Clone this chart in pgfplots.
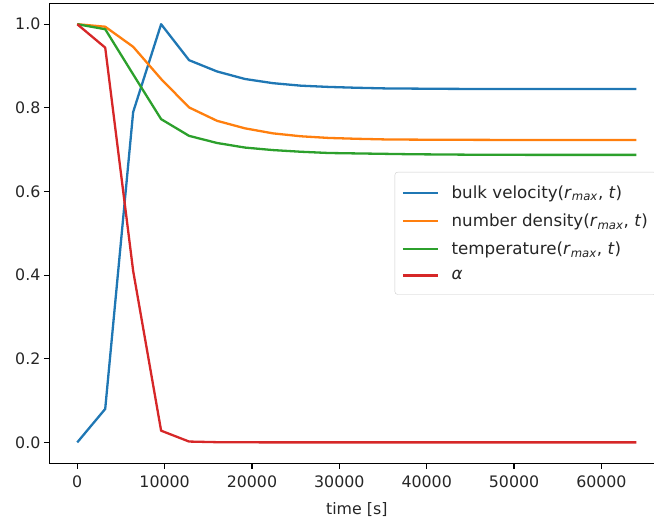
\documentclass[border=0pt]{standalone}
\usepackage{pgfplots}
\pgfplotsset{compat=1.18}
\usepackage{pgfplotstable}
\usepackage{fontspec}
\setmainfont{DejaVu Sans}
\definecolor{C0}{HTML}{1F77B4}
\definecolor{C1}{HTML}{FF7F0E}
\definecolor{C2}{HTML}{2CA02C}
\definecolor{C3}{HTML}{D62728}
\pgfplotstableread{
t      v       n       T       a
0      0.000   1.000   1.000   1.000
3200   0.080   0.994   0.988   0.944
6400   0.790   0.946   0.880   0.410
9600   1.000   0.869   0.773   0.028
12800  0.914   0.801   0.733   0.002
16000  0.887   0.769   0.716   0.0005
19200  0.869   0.751   0.705   0.0002
22400  0.859   0.739   0.699   0.0
25600  0.853   0.732   0.695   0.0
28800  0.850   0.728   0.692   0.0
32000  0.848   0.726   0.691   0.0
35200  0.8465  0.7245  0.690   0.0
38400  0.846   0.724   0.689   0.0
41600  0.8455  0.7237  0.6885  0.0
44800  0.8452  0.7235  0.688   0.0
48000  0.845   0.7233  0.6878  0.0
51200  0.845   0.7232  0.6876  0.0
54400  0.845   0.723   0.6875  0.0
57600  0.845   0.723   0.6875  0.0
60800  0.845   0.723   0.6875  0.0
64000  0.845   0.723   0.6875  0.0
}\datatable
\begin{document}
\begin{tikzpicture}
\begin{axis}[
  scale only axis,
  width=615pt, height=460pt,
  xmin=-3200, xmax=67200,
  ymin=-0.05, ymax=1.05,
  xtick={0,10000,20000,30000,40000,50000,60000},
  ytick={0,0.2,0.4,0.6,0.8,1.0},
  scaled ticks=false,
  tick pos=left,
  tick align=outside,
  major tick length=5.4pt,
  every tick/.style={black, line width=1.2pt},
  axis line style={black, line width=1.2pt},
  /pgf/number format/assume math mode=true,
  tick label style={font=\fontsize{15.8}{18}\selectfont, text=black!85},
  xticklabel style={yshift=-3.5pt, /pgf/number format/.cd, fixed, 1000 sep={}},
  yticklabel style={/pgf/number format/.cd, fixed, fixed zerofill, precision=1},
  xlabel={time [s]},
  xlabel style={font=\fontsize{15.8}{18}\selectfont, text=black!85, yshift=-8pt},
  legend cell align=left,
  legend image code/.code={\draw[#1] (0pt,0pt) -- (35pt,0pt);},
  legend style={at={(1,0.5)}, anchor=east, xshift=-7.75pt,
    draw=black!20, rounded corners=3pt, fill=white, fill opacity=0.8, text opacity=1,
    font=\fontsize{16.7}{19}\selectfont, text=black!85,
    inner xsep=7pt, inner ysep=12pt, row sep=11pt,
    nodes={inner sep=1.5pt},
    /tikz/every odd column/.append style={column sep=11pt}},
  every axis plot/.append style={line width=2.3pt, line join=round},
]
\addplot[C0] table[x=t, y=v] {\datatable};
\addlegendentry{bulk velocity(\textit{r}\textsubscript{\textit{max}}, \textit{t})}
\addplot[C1] table[x=t, y=n] {\datatable};
\addlegendentry{number density(\textit{r}\textsubscript{\textit{max}}, \textit{t})}
\addplot[C2] table[x=t, y=T] {\datatable};
\addlegendentry{temperature(\textit{r}\textsubscript{\textit{max}}, \textit{t})}
\addplot[C3] table[x=t, y=a] {\datatable};
\addlegendentry{\textit{α}}
\end{axis}
\pgfresetboundingbox
\path[use as bounding box] ([shift={(-49.3pt,-59.7pt)}]current axis.south west) rectangle ([shift={(604.7pt,463.3pt)}]current axis.south west);
\end{tikzpicture}
\end{document}
